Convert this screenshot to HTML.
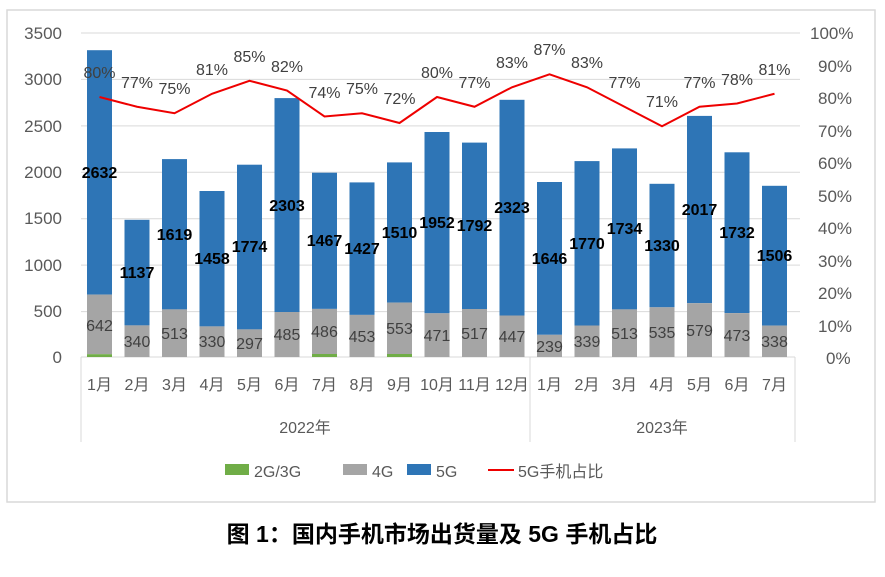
<!DOCTYPE html><html><head><meta charset="utf-8"><style>body{margin:0;background:#fff}svg{display:block}</style></head><body>
<svg width="885" height="577" xmlns="http://www.w3.org/2000/svg" font-family="Liberation Sans, Noto Sans CJK SC, sans-serif">
<rect x="7" y="10" width="868" height="492" fill="#fff" stroke="#d9d9d9" stroke-width="1.5"/>
<g stroke="#d9d9d9" stroke-width="1">
<line x1="81" x2="800" y1="33" y2="33"/><line x1="81" x2="800" y1="79.4" y2="79.4"/><line x1="81" x2="800" y1="125.9" y2="125.9"/><line x1="81" x2="800" y1="172.3" y2="172.3"/><line x1="81" x2="800" y1="218.7" y2="218.7"/><line x1="81" x2="800" y1="265.1" y2="265.1"/><line x1="81" x2="800" y1="311.6" y2="311.6"/>
<line x1="81" x2="795" y1="357" y2="357"/><line x1="81" x2="81" y1="357" y2="442"/><line x1="530" x2="530" y1="357" y2="442"/><line x1="795" x2="795" y1="357" y2="442"/>
</g>
<g fill="#595959" font-size="17" text-anchor="end">
<text x="62" y="39">3500</text><text x="62" y="85">3000</text><text x="62" y="132">2500</text><text x="62" y="178">2000</text><text x="62" y="224">1500</text><text x="62" y="271">1000</text><text x="62" y="317">500</text><text x="62" y="363">0</text>
</g>
<g fill="#595959" font-size="17">
<text x="810" y="39">100%</text><text x="818" y="72">90%</text><text x="818" y="104">80%</text><text x="818" y="137">70%</text><text x="818" y="169">60%</text><text x="818" y="202">50%</text><text x="818" y="234">40%</text><text x="818" y="267">30%</text><text x="818" y="299">20%</text><text x="818" y="332">10%</text><text x="826" y="364">0%</text>
</g>
<g fill="#2e75b6">
<rect x="87" y="50.2" width="25" height="244.4"/><rect x="124.5" y="219.8" width="25" height="105.6"/><rect x="162" y="159.1" width="25" height="150.3"/><rect x="199.5" y="191" width="25" height="135.4"/><rect x="237" y="164.7" width="25" height="164.7"/><rect x="274.5" y="98.1" width="25" height="213.9"/><rect x="312" y="172.7" width="25" height="136.2"/><rect x="349.5" y="182.4" width="25" height="132.5"/><rect x="387" y="162.4" width="25" height="140.2"/><rect x="424.5" y="132" width="25" height="181.3"/><rect x="462" y="142.6" width="25" height="166.4"/><rect x="499.5" y="99.8" width="25" height="215.7"/><rect x="537" y="182" width="25" height="152.8"/><rect x="574.5" y="161.1" width="25" height="164.4"/><rect x="612" y="148.4" width="25" height="161"/><rect x="649.5" y="183.8" width="25" height="123.5"/><rect x="687" y="115.9" width="25" height="187.3"/><rect x="724.5" y="152.3" width="25" height="160.8"/><rect x="762" y="185.8" width="25" height="139.8"/>
</g>
<g fill="#a5a5a5">
<rect x="87" y="294.6" width="25" height="59.6"/><rect x="124.5" y="325.4" width="25" height="31.6"/><rect x="162" y="309.4" width="25" height="47.6"/><rect x="199.5" y="326.4" width="25" height="30.6"/><rect x="237" y="329.4" width="25" height="27.6"/><rect x="274.5" y="312" width="25" height="45"/><rect x="312" y="308.9" width="25" height="45.1"/><rect x="349.5" y="314.9" width="25" height="42.1"/><rect x="387" y="302.6" width="25" height="51.4"/><rect x="424.5" y="313.3" width="25" height="43.7"/><rect x="462" y="309" width="25" height="48"/><rect x="499.5" y="315.5" width="25" height="41.5"/><rect x="537" y="334.8" width="25" height="22.2"/><rect x="574.5" y="325.5" width="25" height="31.5"/><rect x="612" y="309.4" width="25" height="47.6"/><rect x="649.5" y="307.3" width="25" height="49.7"/><rect x="687" y="303.2" width="25" height="53.8"/><rect x="724.5" y="313.1" width="25" height="43.9"/><rect x="762" y="325.6" width="25" height="31.4"/>
</g>
<g fill="#70ad47"><rect x="87" y="354.2" width="25" height="2.8"/><rect x="312" y="354" width="25" height="3"/><rect x="387" y="354" width="25" height="3"/></g>
<polyline fill="none" stroke="#e00" stroke-width="2" points="99.5,97 137,106.75 174.5,113.25 212,93.75 249.5,80.75 287,90.5 324.5,116.5 362,113.25 399.5,123 437,97 474.5,106.75 512,87.25 549.5,74.25 587,87.25 624.5,106.75 662,126.25 699.5,106.75 737,103.5 774.5,93.75"/>
<g fill="#404040" font-size="16" text-anchor="middle">
<text x="99.5" y="78">80%</text><text x="137" y="88">77%</text><text x="174.5" y="94">75%</text><text x="212" y="75">81%</text><text x="249.5" y="62">85%</text><text x="287" y="72">82%</text><text x="324.5" y="98">74%</text><text x="362" y="94">75%</text><text x="399.5" y="104">72%</text><text x="437" y="78">80%</text><text x="474.5" y="88">77%</text><text x="512" y="68">83%</text><text x="549.5" y="55">87%</text><text x="587" y="68">83%</text><text x="624.5" y="88">77%</text><text x="662" y="107">71%</text><text x="699.5" y="88">77%</text><text x="737" y="85">78%</text><text x="774.5" y="75">81%</text>
</g>
<g fill="#000" font-size="16" font-weight="bold" text-anchor="middle">
<text x="99.5" y="178">2632</text><text x="137" y="278">1137</text><text x="174.5" y="240">1619</text><text x="212" y="264">1458</text><text x="249.5" y="252">1774</text><text x="287" y="211">2303</text><text x="324.5" y="246">1467</text><text x="362" y="254">1427</text><text x="399.5" y="238">1510</text><text x="437" y="228">1952</text><text x="474.5" y="231">1792</text><text x="512" y="213">2323</text><text x="549.5" y="264">1646</text><text x="587" y="249">1770</text><text x="624.5" y="234">1734</text><text x="662" y="251">1330</text><text x="699.5" y="215">2017</text><text x="737" y="238">1732</text><text x="774.5" y="261">1506</text>
</g>
<g fill="#404040" font-size="16" text-anchor="middle">
<text x="99.5" y="331">642</text><text x="137" y="347">340</text><text x="174.5" y="339">513</text><text x="212" y="347">330</text><text x="249.5" y="349">297</text><text x="287" y="340">485</text><text x="324.5" y="337">486</text><text x="362" y="342">453</text><text x="399.5" y="334">553</text><text x="437" y="341">471</text><text x="474.5" y="339">517</text><text x="512" y="342">447</text><text x="549.5" y="352">239</text><text x="587" y="347">339</text><text x="624.5" y="339">513</text><text x="662" y="338">535</text><text x="699.5" y="336">579</text><text x="737" y="341">473</text><text x="774.5" y="347">338</text>
</g>
<g fill="#595959" font-size="16" text-anchor="middle">
<text x="99.5" y="390">1月</text><text x="137" y="390">2月</text><text x="174.5" y="390">3月</text><text x="212" y="390">4月</text><text x="249.5" y="390">5月</text><text x="287" y="390">6月</text><text x="324.5" y="390">7月</text><text x="362" y="390">8月</text><text x="399.5" y="390">9月</text><text x="437" y="390">10月</text><text x="474.5" y="390">11月</text><text x="512" y="390">12月</text><text x="549.5" y="390">1月</text><text x="587" y="390">2月</text><text x="624.5" y="390">3月</text><text x="662" y="390">4月</text><text x="699.5" y="390">5月</text><text x="737" y="390">6月</text><text x="774.5" y="390">7月</text>
<text x="305" y="433">2022年</text><text x="662" y="433">2023年</text>
</g>
<g font-size="16" fill="#595959">
<rect x="225" y="464" width="24" height="11" fill="#70ad47"/><text x="254" y="477">2G/3G</text>
<rect x="343" y="464" width="24" height="11" fill="#a5a5a5"/><text x="372" y="477">4G</text>
<rect x="407" y="464" width="24" height="11" fill="#2e75b6"/><text x="436" y="477">5G</text>
<line x1="488" x2="514" y1="470" y2="470" stroke="#e00" stroke-width="2"/><text x="518" y="477">5G手机占比</text>
</g>
<text x="442" y="542" text-anchor="middle" font-size="23" font-weight="bold" fill="#000">图 1：国内手机市场出货量及 5G 手机占比</text>
</svg></body></html>
